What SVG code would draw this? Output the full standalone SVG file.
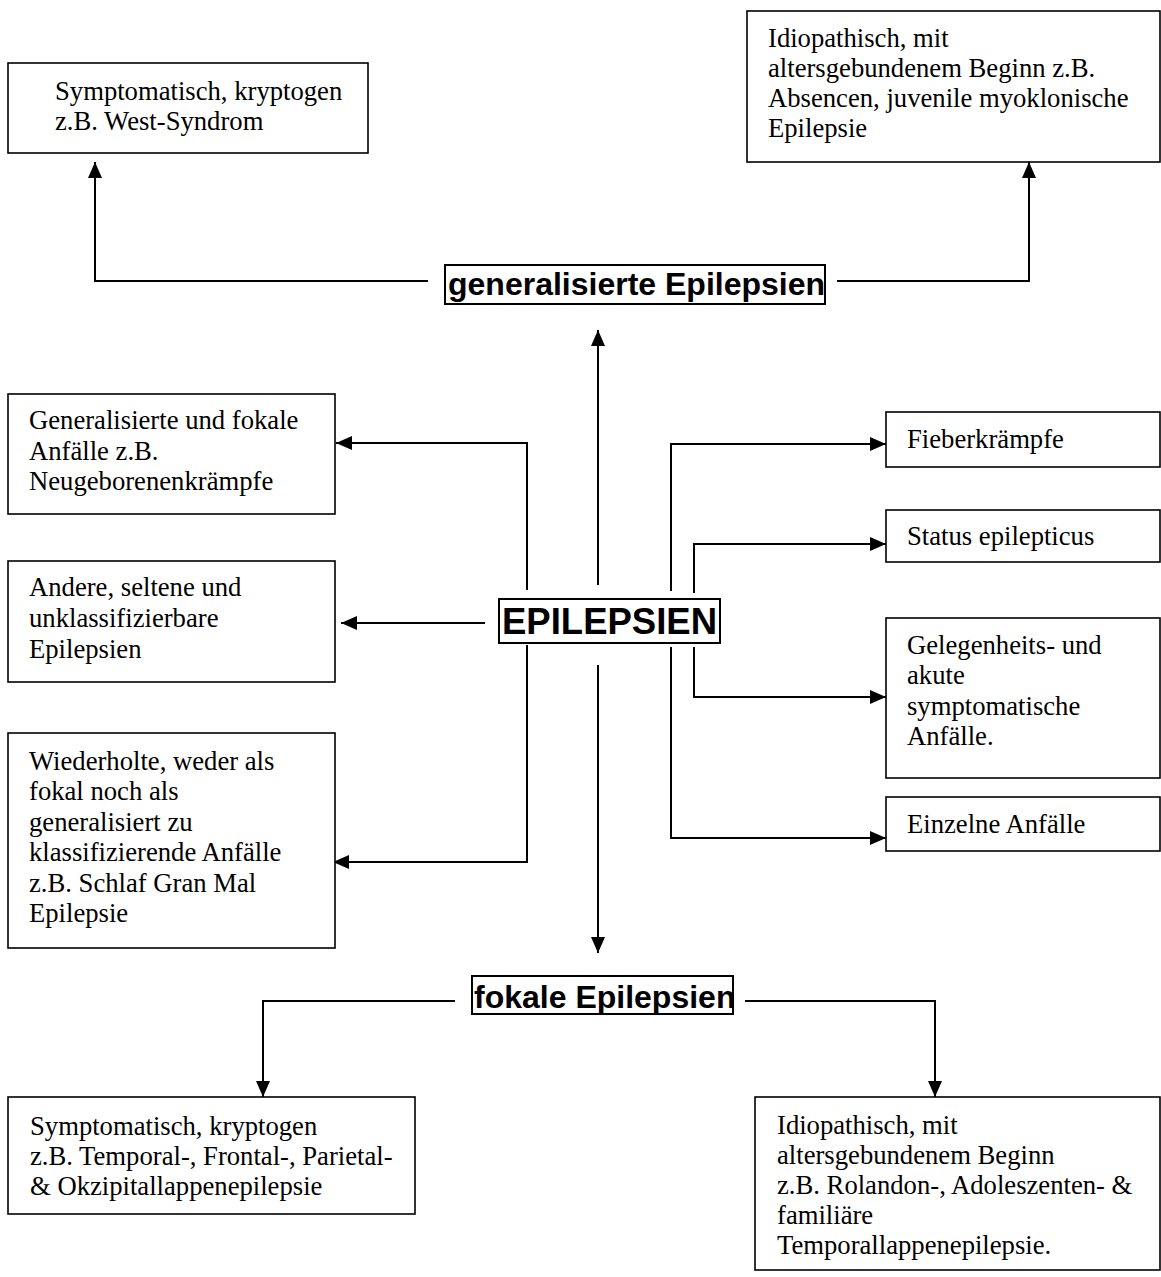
<svg xmlns="http://www.w3.org/2000/svg" width="1161" height="1277" viewBox="0 0 1161 1277">
<defs>
<marker id="ah" markerUnits="userSpaceOnUse" markerWidth="16" markerHeight="14" refX="16" refY="7" orient="auto" viewBox="0 0 16 14">
<path d="M0,0 L16,7 L0,14 z" fill="#000"/>
</marker>
</defs>
<style>
.box{fill:#fff;stroke:#000;stroke-width:1.6}
.hbox{fill:#fff;stroke:#000;stroke-width:2}
.t{font-family:"Liberation Serif","Times New Roman",serif;font-size:26.67px;fill:#000}
.h{font-family:"Liberation Sans",Arial,sans-serif;font-weight:bold;font-size:32px;fill:#000}
.big{font-family:"Liberation Sans",Arial,sans-serif;font-weight:bold;font-size:36.5px;fill:#000}
.c{fill:none;stroke:#000;stroke-width:2;marker-end:url(#ah)}
</style>
<rect width="1161" height="1277" fill="#fff"/>
<g id="connectors">
<path class="c" d="M428,281 H95 V162"/>
<path class="c" d="M837,281 H1029 V162"/>
<path class="c" d="M598,585 V330"/>
<path class="c" d="M598,665 V953"/>
<path class="c" d="M527,590 V443 H336"/>
<path class="c" d="M485,623 H341"/>
<path class="c" d="M527,645 V862 H333"/>
<path class="c" d="M671,591 V444 H886"/>
<path class="c" d="M694,593 V544 H886"/>
<path class="c" d="M694,647 V697 H886"/>
<path class="c" d="M671,647 V838 H886"/>
<path class="c" d="M455,1001 H263 V1097"/>
<path class="c" d="M745,1001 H935 V1097"/>
</g>
<g id="n-sym-gen">
<rect class="box" x="8" y="63" width="360" height="90"/>
<text class="t" x="55" y="100">Symptomatisch, kryptogen</text>
<text class="t" x="55" y="130">z.B. West-Syndrom</text>
</g>
<g id="n-idio-gen">
<rect class="box" x="747" y="11" width="413" height="151"/>
<text class="t" x="768" y="47">Idiopathisch, mit</text>
<text class="t" x="768" y="77">altersgebundenem Beginn z.B.</text>
<text class="t" x="768" y="107">Absencen, juvenile myoklonische</text>
<text class="t" x="768" y="137">Epilepsie</text>
</g>
<g id="n-generalisiert">
<rect class="hbox" x="445" y="265" width="380" height="39"/>
<text class="h" x="448" y="295">generalisierte Epilepsien</text>
</g>
<g id="n-gen-fokal">
<rect class="box" x="8" y="394" width="327" height="120"/>
<text class="t" x="29" y="429">Generalisierte und fokale</text>
<text class="t" x="29" y="460">Anfälle z.B.</text>
<text class="t" x="29" y="490">Neugeborenenkrämpfe</text>
</g>
<g id="n-andere">
<rect class="box" x="8" y="561" width="327" height="121"/>
<text class="t" x="29" y="596">Andere, seltene und</text>
<text class="t" x="29" y="627">unklassifizierbare</text>
<text class="t" x="29" y="658">Epilepsien</text>
</g>
<g id="n-wiederholte">
<rect class="box" x="8" y="733" width="327" height="215"/>
<text class="t" x="29" y="770">Wiederholte, weder als</text>
<text class="t" x="29" y="800">fokal noch als</text>
<text class="t" x="29" y="831">generalisiert zu</text>
<text class="t" x="29" y="861">klassifizierende Anfälle</text>
<text class="t" x="29" y="892">z.B. Schlaf Gran Mal</text>
<text class="t" x="29" y="922">Epilepsie</text>
</g>
<g id="n-epilepsien">
<rect class="hbox" x="499" y="599" width="221" height="44"/>
<text class="big" x="502" y="634">EPILEPSIEN</text>
</g>
<g id="n-fieber">
<rect class="box" x="886" y="412" width="274" height="55"/>
<text class="t" x="907" y="448">Fieberkrämpfe</text>
</g>
<g id="n-status">
<rect class="box" x="886" y="510" width="274" height="52"/>
<text class="t" x="907" y="545">Status epilepticus</text>
</g>
<g id="n-gelegenheit">
<rect class="box" x="886" y="618" width="274" height="160"/>
<text class="t" x="907" y="654">Gelegenheits- und</text>
<text class="t" x="907" y="684">akute</text>
<text class="t" x="907" y="715">symptomatische</text>
<text class="t" x="907" y="745">Anfälle.</text>
</g>
<g id="n-einzelne">
<rect class="box" x="886" y="797" width="274" height="54"/>
<text class="t" x="907" y="833">Einzelne Anfälle</text>
</g>
<g id="n-fokal">
<rect class="hbox" x="472" y="976" width="261" height="38"/>
<text class="h" x="474" y="1008">fokale Epilepsien</text>
</g>
<g id="n-sym-fok">
<rect class="box" x="8" y="1097" width="407" height="117"/>
<text class="t" x="30" y="1135">Symptomatisch, kryptogen</text>
<text class="t" x="30" y="1165">z.B. Temporal-, Frontal-, Parietal-</text>
<text class="t" x="30" y="1195">&amp; Okzipitallappenepilepsie</text>
</g>
<g id="n-idio-fok">
<rect class="box" x="755" y="1097" width="405" height="173"/>
<text class="t" x="777" y="1134">Idiopathisch, mit</text>
<text class="t" x="777" y="1164">altersgebundenem Beginn</text>
<text class="t" x="777" y="1194">z.B. Rolandon-, Adoleszenten- &amp;</text>
<text class="t" x="777" y="1224">familiäre</text>
<text class="t" x="777" y="1254">Temporallappenepilepsie.</text>
</g>
</svg>
